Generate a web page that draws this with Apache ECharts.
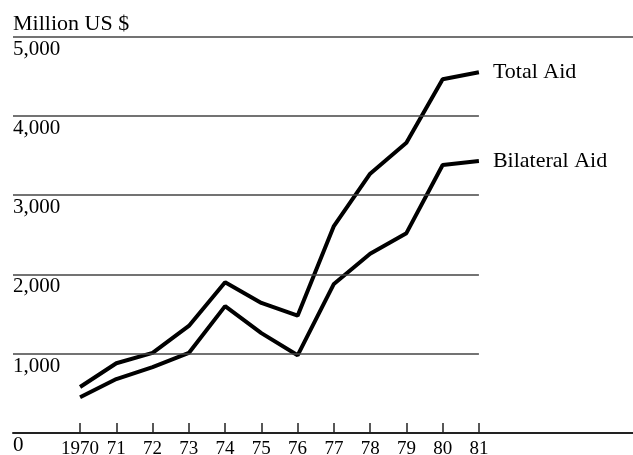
<!DOCTYPE html>
<html lang="en">
<head>
    <meta charset="UTF-8">
    <title>Total and Bilateral Aid</title>
    <style>
        body { margin: 0; background: #fff; }
        #container { width: 633px; height: 455px; }
    </style>
    <script src="https://cdn.jsdelivr.net/npm/echarts@6.0.0/dist/echarts.min.js"></script>
</head>
<body>
    <div id="container"></div>
    <script>
        // data (million US $)
        var years = [1970, 1971, 1972, 1973, 1974, 1975, 1976, 1977, 1978, 1979, 1980, 1981];
        var totalAid = [580, 880, 1010, 1350, 1900, 1640, 1480, 2610, 3270, 3660, 4460, 4550];
        var bilateralAid = [450, 680, 830, 1010, 1600, 1260, 980, 1880, 2260, 2520, 3380, 3430];
        var yTicks = [1000, 2000, 3000, 4000, 5000];

        var font = 'Liberation Serif, Times New Roman, serif';
        var xMin = 1968.15, xMax = 1985.25;

        var chart = echarts.init(document.getElementById('container'));

        function pairs(vals) {
            return years.map(function (y, i) { return [y, vals[i]]; });
        }

        // horizontal rules: the top one runs across, the others stop at the last year
        var rules = yTicks.map(function (v) {
            var end = v === 5000 ? xMax : years[years.length - 1];
            return [{ coord: [xMin, v] }, { coord: [end, v] }];
        });

        var option = {
            backgroundColor: '#fff',
            animation: false,
            title: {
                text: 'Million US $',
                left: 13,
                top: 13,
                padding: 0,
                textStyle: { fontFamily: font, fontSize: 22, fontWeight: 'normal', color: '#000' }
            },
            grid: { left: 13, right: 0, top: 36.5, bottom: 22, outerBoundsMode: 'none' },
            xAxis: {
                type: 'value',
                min: xMin,
                max: xMax,
                splitLine: { show: false },
                axisLine: { show: true, lineStyle: { color: '#222', width: 2 } },
                axisTick: { show: true, customValues: years, inside: true, length: 10, lineStyle: { color: '#222', width: 1.5 } },
                axisLabel: {
                    customValues: years,
                    margin: 7,
                    fontFamily: font,
                    fontSize: 19,
                    color: '#000',
                    formatter: function (v) { return v === 1970 ? '1970' : String(v % 100); }
                }
            },
            yAxis: {
                type: 'value',
                min: 0,
                max: 5000,
                interval: 1000,
                axisLine: { show: false },
                axisTick: { show: false },
                splitLine: { show: false },
                axisLabel: {
                    inside: true,
                    margin: 0,
                    verticalAlign: 'top',
                    padding: [2, 0, 0, 0],
                    fontFamily: font,
                    fontSize: 21,
                    color: '#000',
                    formatter: function (v) { return v.toLocaleString('en-US'); }
                }
            },
            series: [
                {
                    type: 'line',
                    data: [],
                    z: 1,
                    silent: true,
                    markLine: {
                        silent: true,
                        symbol: 'none',
                        label: { show: false },
                        lineStyle: { color: '#444', width: 1.5, type: 'solid' },
                        data: rules
                    }
                },
                {
                    name: 'Total Aid',
                    type: 'line',
                    z: 3,
                    data: pairs(totalAid),
                    symbol: 'none',
                    lineStyle: { color: '#000', width: 4 },
                    endLabel: {
                        show: true, formatter: '{a}', distance: 14,
                        fontFamily: font, fontSize: 22, color: '#000'
                    }
                },
                {
                    name: 'Bilateral Aid',
                    type: 'line',
                    z: 3,
                    data: pairs(bilateralAid),
                    symbol: 'none',
                    lineStyle: { color: '#000', width: 4 },
                    endLabel: {
                        show: true, formatter: '{a}', distance: 14,
                        fontFamily: font, fontSize: 22, color: '#000'
                    }
                }
            ]
        };

        chart.setOption(option);
        window.addEventListener('resize', function () { chart.resize(); });
    </script>
</body>
</html>
